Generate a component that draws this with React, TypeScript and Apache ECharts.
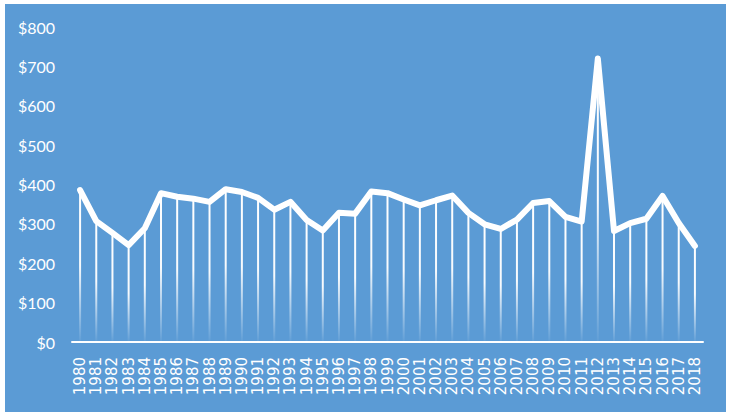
import React, { useEffect, useRef } from "react";
import * as echarts from "echarts";

const years = [
  "1980","1981","1982","1983","1984","1985","1986","1987","1988","1989",
  "1990","1991","1992","1993","1994","1995","1996","1997","1998","1999",
  "2000","2001","2002","2003","2004","2005","2006","2007","2008","2009",
  "2010","2011","2012","2013","2014","2015","2016","2017","2018",
];
const values = [
  386, 307, 277, 246, 289, 378, 369, 364, 356, 388,
  381, 366, 336, 356, 310, 283, 328, 326, 382, 378,
  362, 347, 360, 372, 328, 299, 287, 311, 353, 358,
  318, 306, 720, 282, 302, 313, 371, 302, 244,
];
const yTicks = [0, 100, 200, 300, 400, 500, 600, 700, 800];

export default function App() {
  const ref = useRef<HTMLDivElement>(null);
  useEffect(() => {
    if (!ref.current) return;
    const chart = echarts.init(ref.current, null, { renderer: "svg" });
    const font = "Lato, 'Open Sans', sans-serif";
    chart.setOption({
      animation: false,
      backgroundColor: "#ffffff",
      graphic: [
        {
          type: "rect",
          z: -10,
          shape: { x: 5, y: 4, width: 721, height: 408 },
          style: { fill: "#5B9BD5" },
        },
      ],
      grid: { left: 72, right: 29, top: 27, bottom: 74 },
      xAxis: {
        type: "category",
        data: years,
        boundaryGap: true,
        axisLine: { lineStyle: { color: "#ffffff", width: 2 } },
        axisTick: { show: false },
        axisLabel: {
          interval: 0,
          rotate: 90,
          color: "#ffffff",
          fontSize: 15,
          fontFamily: "'DejaVu Sans', sans-serif",
          margin: 15,
        },
      },
      yAxis: {
        type: "value",
        min: yTicks[0],
        max: yTicks[yTicks.length - 1],
        interval: 100,
        axisLine: { show: false },
        axisTick: { show: false },
        splitLine: { show: false },
        axisLabel: {
          color: "#ffffff",
          fontSize: 16,
          fontFamily: font,
          margin: 17,
          formatter: (v: number) => "$" + v,
        },
      },
      series: [
        {
          type: "bar",
          data: values,
          barWidth: 2,
          z: 1,
          itemStyle: {
            color: new echarts.graphic.LinearGradient(0, 0, 0, 1, [
              { offset: 0, color: "rgba(255,255,255,1)" },
              { offset: 0.5, color: "rgba(255,255,255,0.95)" },
              { offset: 1, color: "rgba(255,255,255,0.03)" },
            ]),
          },
        },
        {
          type: "line",
          data: values,
          z: 3,
          symbol: "none",
          lineStyle: { color: "#ffffff", width: 6, join: "round", cap: "round" },
        },
      ],
    });
    return () => chart.dispose();
  }, []);
  return (
    <div
      ref={ref}
      style={{ position: "fixed", left: 0, top: 0, width: 732, height: 416 }}
    />
  );
}
